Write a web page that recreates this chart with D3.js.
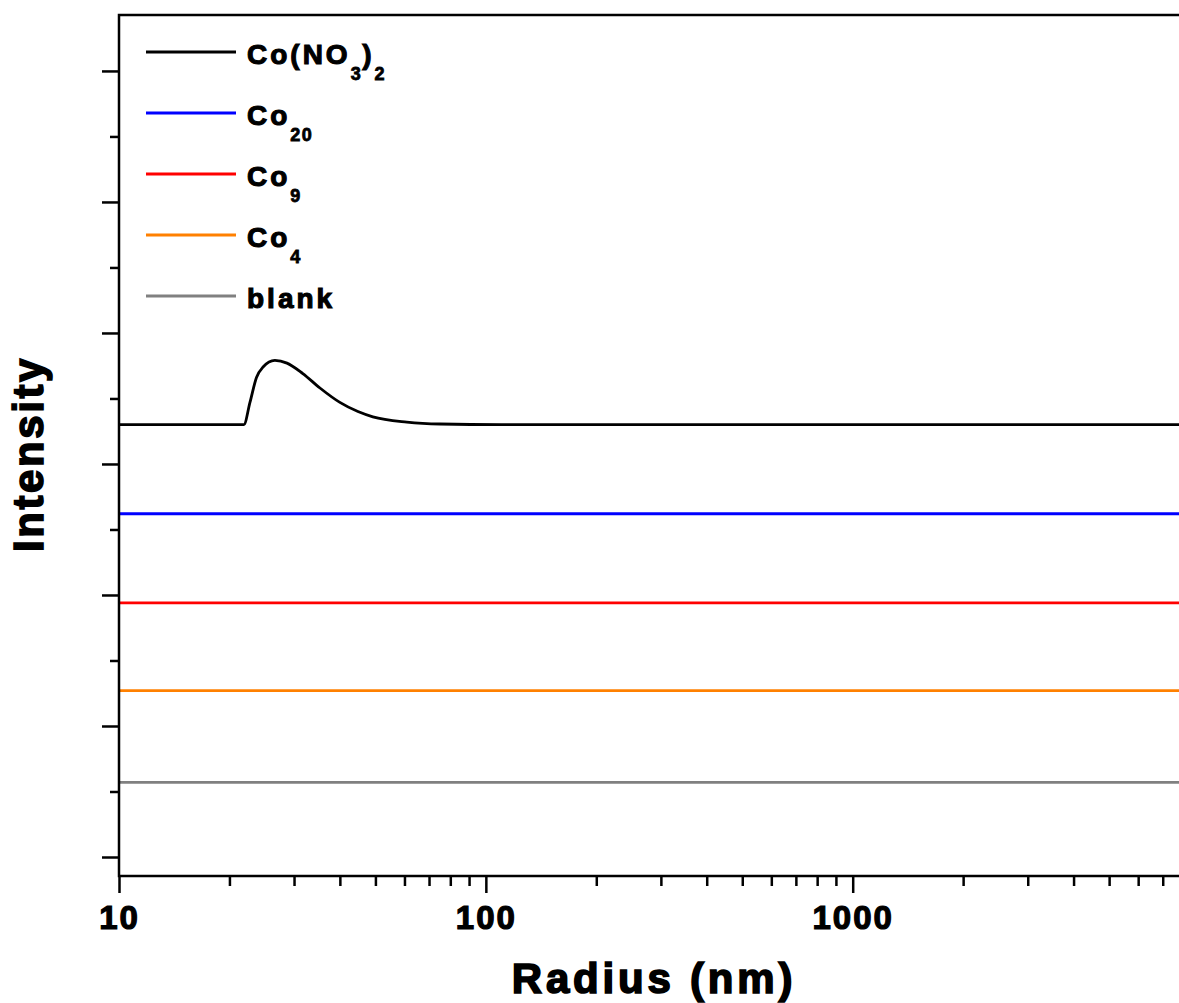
<!DOCTYPE html>
<html>
<head>
<meta charset="utf-8">
<script src="https://cdn.jsdelivr.net/npm/d3@7"></script>
<style>
  html, body { margin: 0; padding: 0; background: #fff; }
  svg { display: block; }
  text { font-family: "Liberation Sans", Arial, sans-serif; font-weight: bold; fill: #000; stroke: #000; }
</style>
</head>
<body>
<svg id="chart" width="1179" height="1003"></svg>
<script>
// Radius (nm) sampled for the Co(NO3)2 trace
const cobaltNitrateRadius = [10, 21.9, 22.75, 23.7, 24.7, 26.6, 28.7, 31.7, 35.3, 40.0, 44.8, 49.2, 60.9, 75.0, 110, 8000];
// Intensity (offset, arbitrary units) for the Co(NO3)2 trace
const cobaltNitrateIntensity = [3.30, 3.30, 3.47, 3.66, 3.74, 3.79, 3.77, 3.69, 3.58, 3.47, 3.40, 3.36, 3.32, 3.305, 3.30, 3.30];

// Flat traces: radius span and constant offset intensity
const flatRadius = [10, 8000];
const co20Intensity = [2.62, 2.62];
const co9Intensity = [1.94, 1.94];
const co4Intensity = [1.27, 1.27];
const blankIntensity = [0.57, 0.57];

const seriesNames = ["Co(NO3)2", "Co20", "Co9", "Co4", "blank"];
const seriesColors = ["#000000", "#0000FF", "#FF0000", "#FF8000", "#808080"];

const xMajorTicks = [10, 100, 1000];
const xMinorTicks = [20, 30, 40, 50, 60, 70, 80, 90, 200, 300, 400, 500, 600, 700, 800, 900,
                     2000, 3000, 4000, 5000, 6000, 7000];
const yMajorTicks = [0, 1, 2, 3, 4, 5, 6];
const yMinorTicks = [0.5, 1.5, 2.5, 3.5, 4.5, 5.5];

const xDomain = [10, 8000];
const yDomain = [-0.145, 6.427];

(function () {
  const svg = d3.select("#chart");
  const plotLeft = 119, plotTop = 15, plotBottom = 876, plotRight = 1184;

  const x = d3.scaleLog().domain(xDomain).range([plotLeft, plotRight]);
  const y = d3.scaleLinear().domain(yDomain).range([plotBottom, plotTop]);

  const series = [
    { name: seriesNames[0], color: seriesColors[0], r: cobaltNitrateRadius, v: cobaltNitrateIntensity },
    { name: seriesNames[1], color: seriesColors[1], r: flatRadius, v: co20Intensity },
    { name: seriesNames[2], color: seriesColors[2], r: flatRadius, v: co9Intensity },
    { name: seriesNames[3], color: seriesColors[3], r: flatRadius, v: co4Intensity },
    { name: seriesNames[4], color: seriesColors[4], r: flatRadius, v: blankIntensity }
  ];

  const line = d3.line()
    .x(d => x(d[0]))
    .y(d => y(d[1]))
    .curve(d3.curveMonotoneX);

  svg.append("g").selectAll("path")
    .data(series.slice().reverse())
    .join("path")
    .attr("fill", "none")
    .attr("stroke", d => d.color)
    .attr("stroke-width", 2.8)
    .attr("d", d => line(d.r.map((r, i) => [r, d.v[i]])));

  // X axis: major ticks with labels, minor ticks without
  const xAxisMajor = d3.axisBottom(x).tickValues(xMajorTicks).tickSize(17).tickFormat(d3.format("d"));
  const xAxisMinor = d3.axisBottom(x).tickValues(xMinorTicks).tickSize(10).tickFormat("");

  const gxMinor = svg.append("g").attr("transform", `translate(0,${plotBottom})`).call(xAxisMinor);
  const gxMajor = svg.append("g").attr("transform", `translate(0,${plotBottom})`).call(xAxisMajor);
  [gxMinor, gxMajor].forEach(g => {
    g.select(".domain").remove();
    g.selectAll("line").attr("stroke", "#000").attr("stroke-width", 2.5);
  });
  gxMajor.selectAll("text")
    .attr("font-family", null)
    .style("font-family", "'Liberation Sans', Arial, sans-serif")
    .style("font-weight", "bold")
    .attr("font-size", 33)
    .attr("letter-spacing", "2px")
    .attr("fill", "#000")
    .attr("stroke", "#000")
    .attr("stroke-width", 1.2)
    .attr("dy", null)
    .attr("y", 53);

  // Y axis: unlabeled major and minor ticks
  const yAxisMajor = d3.axisLeft(y).tickValues(yMajorTicks).tickSize(17).tickFormat("");
  const yAxisMinor = d3.axisLeft(y).tickValues(yMinorTicks).tickSize(9).tickFormat("");
  [yAxisMinor, yAxisMajor].forEach(ax => {
    const g = svg.append("g").attr("transform", `translate(${plotLeft},0)`).call(ax);
    g.select(".domain").remove();
    g.selectAll("line").attr("stroke", "#000").attr("stroke-width", 2.5);
  });

  // Plot frame
  svg.append("rect")
    .attr("x", plotLeft).attr("y", plotTop)
    .attr("width", plotRight - plotLeft).attr("height", plotBottom - plotTop)
    .attr("fill", "none").attr("stroke", "#000").attr("stroke-width", 2.5);

  // Axis titles
  svg.append("text")
    .attr("x", 654).attr("y", 993)
    .attr("text-anchor", "middle")
    .attr("font-size", 42)
    .attr("stroke-width", 1.6)
    .attr("letter-spacing", "3.8px")
    .text("Radius (nm)");

  svg.append("text")
    .attr("transform", "translate(43,454) rotate(-90)")
    .attr("text-anchor", "middle")
    .attr("font-size", 42)
    .attr("stroke-width", 1.6)
    .attr("letter-spacing", "2.6px")
    .text("Intensity");

  // Legend
  const legendLabels = [
    [["Co(NO", 0], ["3", 1], [")", 0], ["2", 1]],
    [["Co", 0], ["20", 1]],
    [["Co", 0], ["9", 1]],
    [["Co", 0], ["4", 1]],
    [["blank", 0]]
  ];
  const legend = svg.append("g");
  series.forEach((s, i) => {
    const ly = 52 + i * 61;
    legend.append("line")
      .attr("x1", 146).attr("x2", 236)
      .attr("y1", ly).attr("y2", ly)
      .attr("stroke", s.color).attr("stroke-width", 2.8);
    const t = legend.append("text")
      .attr("x", 247).attr("y", ly + 12)
      .attr("font-size", 28)
      .attr("stroke-width", 1.1)
      .attr("letter-spacing", "3px");
    let sub = 0;
    legendLabels[i].forEach(([str, isSub]) => {
      const shift = (isSub ? 16 : 0) - (sub ? 16 : 0);
      t.append("tspan")
        .attr("dy", shift)
        .attr("font-size", isSub ? 18 : 28)
        .attr("stroke-width", isSub ? 0.8 : 1.1)
        .attr("letter-spacing", isSub ? "1.5px" : "3px")
        .text(str);
      sub = isSub;
    });
  });
})();
</script>
</body>
</html>
